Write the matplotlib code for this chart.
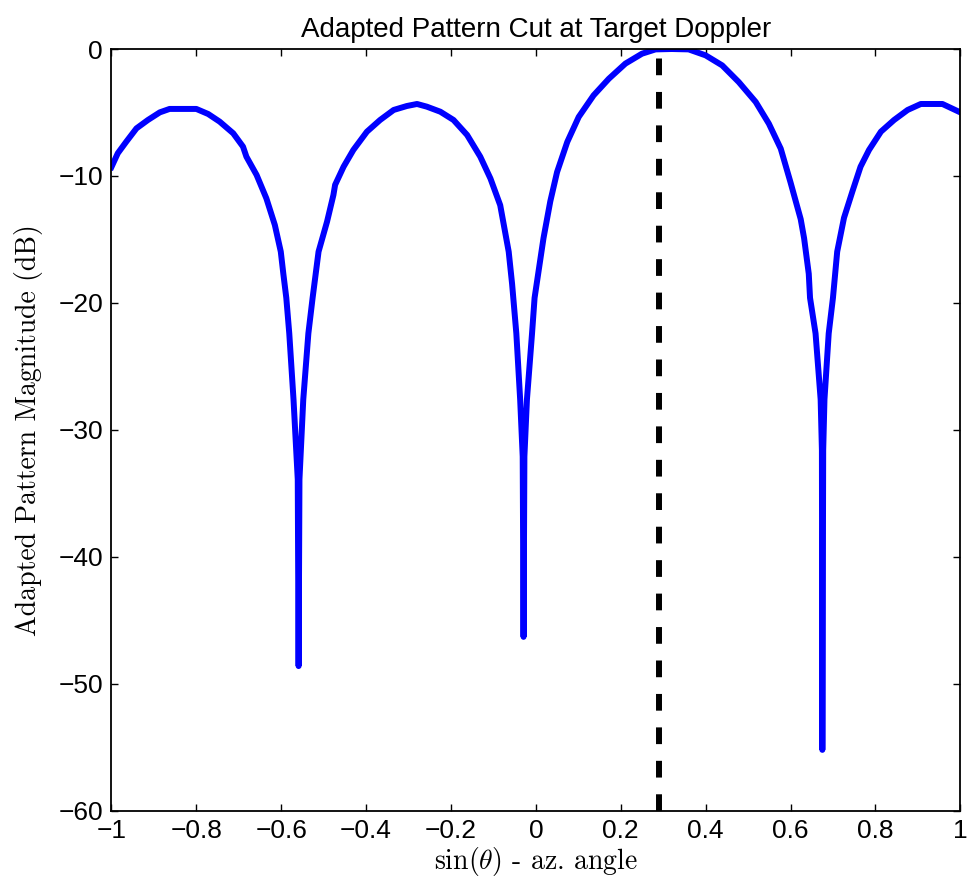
import matplotlib
matplotlib.use('Agg')
import matplotlib.pyplot as plt

plt.rcParams['font.family'] = ['Liberation Sans', 'DejaVu Sans']
plt.rcParams['mathtext.fontset'] = 'cm'

# pattern cut (sin(theta), dB)
sin_theta = [-1.000, -0.985, -0.965, -0.941, -0.914, -0.886, -0.863, -0.800,
             -0.772, -0.745, -0.713, -0.690, -0.682, -0.658, -0.635, -0.615,
             -0.601, -0.595, -0.588, -0.581, -0.571, -0.561, -0.559, -0.557,
             -0.548, -0.536, -0.526, -0.512, -0.492, -0.477, -0.473, -0.453,
             -0.430, -0.398, -0.367, -0.335, -0.304, -0.280, -0.257, -0.225,
             -0.194, -0.162, -0.131, -0.107, -0.084, -0.064, -0.056, -0.046,
             -0.037, -0.031, -0.029, -0.027, -0.021, -0.009, -0.003, 0.018,
             0.034, 0.050, 0.074, 0.101, 0.136, 0.172, 0.211, 0.250,
             0.282, 0.320, 0.360, 0.400, 0.439, 0.478, 0.518, 0.549,
             0.577, 0.600, 0.624, 0.632, 0.643, 0.646, 0.659, 0.671,
             0.674, 0.675, 0.677, 0.680, 0.690, 0.700, 0.710, 0.726,
             0.746, 0.765, 0.785, 0.813, 0.844, 0.876, 0.907, 0.958,
             1.000]
pattern_db = [-9.3, -8.21, -7.30, -6.25, -5.59, -4.99, -4.72, -4.72,
              -5.12, -5.72, -6.64, -7.69, -8.48, -9.92, -11.76, -13.86,
              -15.96, -17.7, -19.6, -22.4, -27.6, -33.9, -48.6, -33.9,
              -27.6, -22.4, -19.6, -15.96, -13.6, -11.5, -10.7, -9.27,
              -7.95, -6.51, -5.59, -4.80, -4.49, -4.33, -4.54, -4.94,
              -5.59, -6.77, -8.48, -10.2, -12.3, -15.96, -18.5, -22.4,
              -27.6, -32.1, -46.3, -32.1, -27.6, -22.4, -19.6, -14.9,
              -12.0, -9.69, -7.32, -5.35, -3.65, -2.34, -1.15, -0.37,
              -0.03, 0.0, -0.03, -0.50, -1.29, -2.60, -4.17, -5.88,
              -7.85, -10.5, -13.4, -14.9, -17.7, -19.6, -22.4, -27.6,
              -31.6, -55.2, -31.6, -27.6, -22.4, -19.6, -15.96, -13.3,
              -11.2, -9.27, -7.95, -6.51, -5.59, -4.80, -4.33, -4.33,
              -4.99]

target_sin = 0.29
y_limits = [-60, 0]
x_ticks = [-1, -0.8, -0.6, -0.4, -0.2, 0, 0.2, 0.4, 0.6, 0.8, 1]
x_labels = ['\u22121', '\u22120.8', '\u22120.6', '\u22120.4', '\u22120.2',
            '0', '0.2', '0.4', '0.6', '0.8', '1']
y_ticks = [-60, -50, -40, -30, -20, -10, 0]

fig = plt.figure(figsize=(9.69, 8.91), dpi=100)
ax = fig.add_axes([0.115, 0.090, 0.876, 0.855])

ax.plot(sin_theta, pattern_db, color='#0000ff', linewidth=4.3,
        solid_joinstyle='round')
ax.plot([target_sin, target_sin], y_limits, color='black', linewidth=4.3,
        linestyle=(0, (2.8, 2.8)), dash_capstyle='butt')

ax.set_xlim(-1, 1)
ax.set_ylim(y_limits)
ax.set_xticks(x_ticks)
ax.set_xticklabels(x_labels)
ax.set_yticks(y_ticks)

ax.tick_params(direction='in', length=5, width=1, labelsize=19,
               top=True, right=True, pad=6)
for sp in ax.spines.values():
    sp.set_linewidth(1.3)

ax.set_title('Adapted Pattern Cut at Target Doppler', fontsize=20, pad=9)
ax.set_xlabel(r'$\sin(\theta)$ - az. angle', fontfamily='cmr10',
              fontsize=20, labelpad=1)
ax.set_ylabel('Adapted Pattern Magnitude (dB)', fontfamily='cmr10',
              fontsize=20, labelpad=11)

fig.savefig('out.png', dpi=100)
